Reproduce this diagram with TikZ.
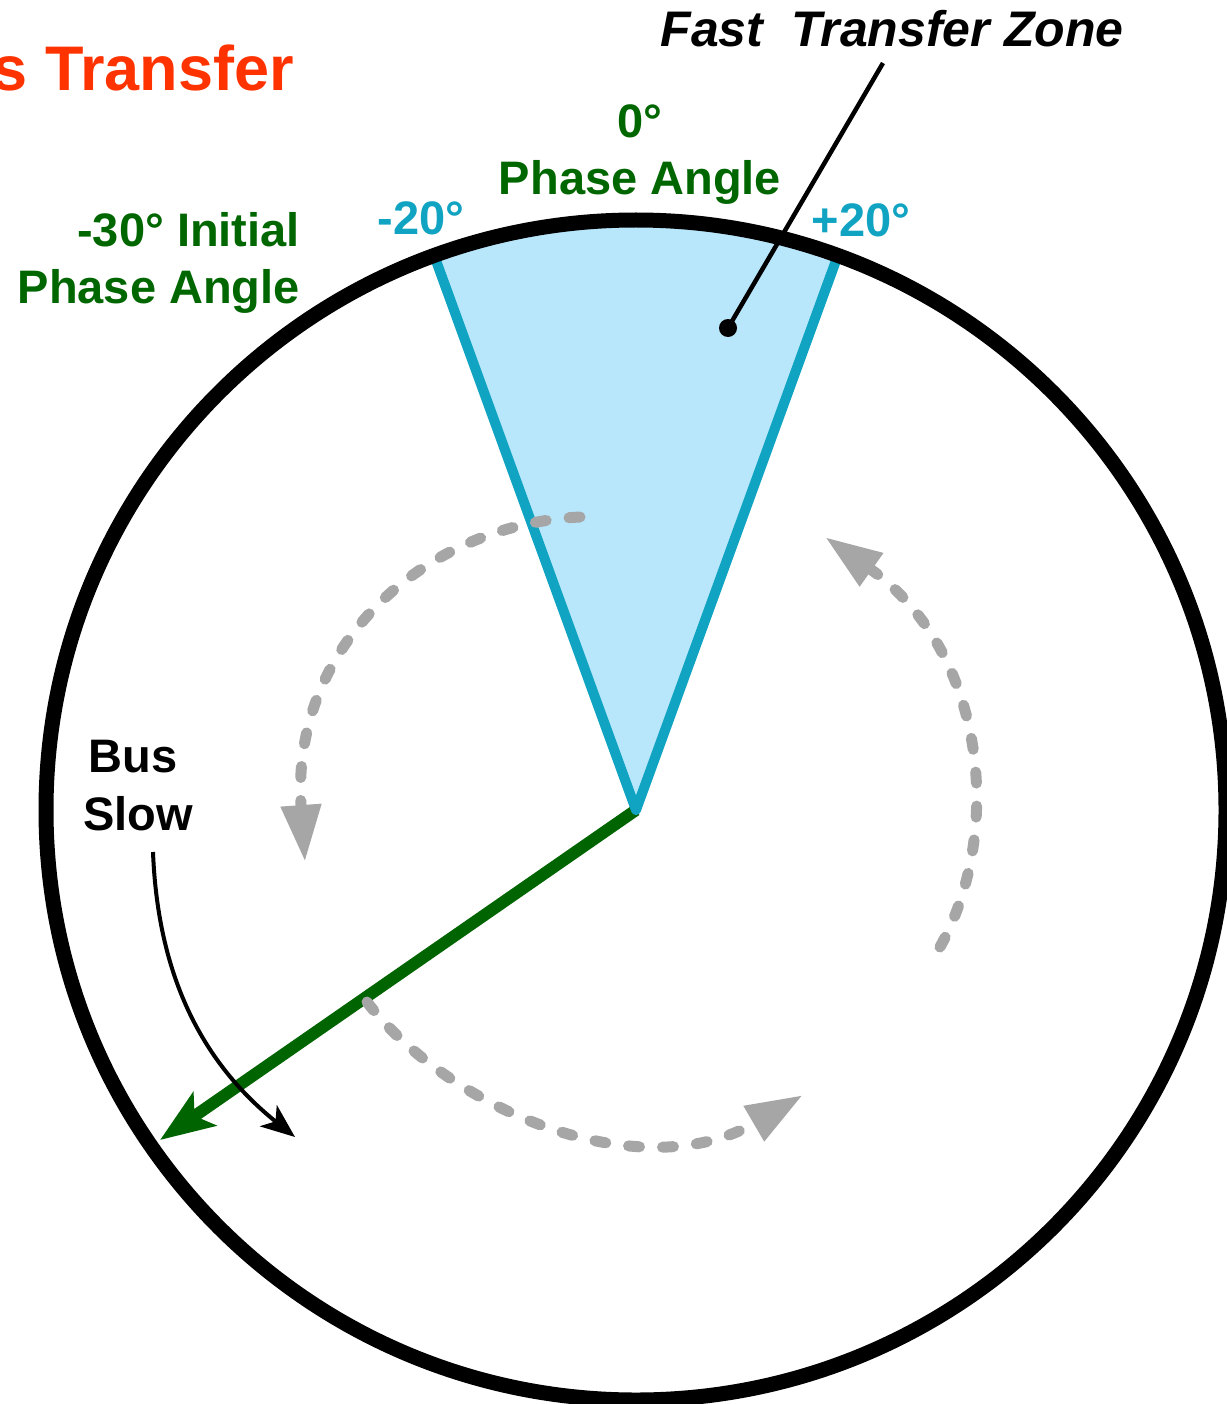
\documentclass[tikz,border=0pt]{standalone}
\usepackage{fontspec}
\setmainfont{Liberation Sans}
\usetikzlibrary{arrows.meta}
\definecolor{ttlred}{HTML}{FF3300}
\definecolor{phgreen}{HTML}{006600}
\definecolor{lngreen}{HTML}{006400}
\definecolor{zcyan}{HTML}{10A4C2}
\definecolor{zfill}{HTML}{B8E7FC}
\definecolor{dgray}{HTML}{A6A6A6}
\tikzset{
  lbl/.style={inner sep=0pt, anchor=base, font={\bfseries\fontsize{47}{56}\selectfont}},
  grayarc/.style={draw=dgray, line width=11pt, line cap=round, dash pattern=on 11pt off 23pt,
    -{Triangle[length=57pt,width=38pt]}},
}
\begin{document}
\begin{tikzpicture}[x=1pt,y=-1pt]
\useasboundingbox (0,0) rectangle (1226,1404);
\fill[white] (0,0) rectangle (1226,1404);
\coordinate (C) at (636,810);
\coordinate (WL) at (434.2,255.6);
\coordinate (WR) at (837.8,255.6);
\coordinate (WLx) at (396.6,152.2);
\coordinate (WRx) at (875.4,152.2);
% wedge fill
\begin{scope}
  \clip (C) circle[radius=590pt];
  \fill[zfill] (C) -- (WLx) -- (WRx) -- cycle;
\end{scope}
% green phasor
\coordinate (G) at (160,1140);
\draw[lngreen, line width=12pt, -{Stealth[length=54pt,width=40pt,inset=12pt]}] (C) -- (G);
% wedge edges
\draw[zcyan, line width=10pt, line join=round] (WL) -- (C) -- (WR);
% leader
\coordinate (dot) at (728,328);
\coordinate (lead) at (883,63);
\draw[black, line width=4.5pt] (dot) -- (lead);
\fill[black] (dot) circle[radius=9pt];
% bus slow arrow
\coordinate (bs1) at (153,852);
\coordinate (bs2) at (295,1137);
\draw[black, line width=4pt, -{Stealth[length=34pt,width=27pt,inset=9pt]}]
  (bs1) .. controls (158,980) and (205,1065) .. (bs2);
% gray dashed arcs
\coordinate (a1s) at (580,517);
\coordinate (a1e) at (305,862);
\draw[grayarc] (a1s) .. controls (420,525) and (290,650) .. (a1e);
\coordinate (a2s) at (367,1002);
\coordinate (a2e) at (803,1095);
\draw[grayarc] (a2s) .. controls (450,1110) and (640,1190) .. (a2e);
\coordinate (a3s) at (940,947);
\coordinate (a3e) at (825,537);
\draw[grayarc] (a3s) .. controls (1005,830) and (985,650) .. (a3e);
% circle
\draw[black, line width=15pt] (C) circle[radius=590pt];
% texts
\node[lbl, text=ttlred, font={\bfseries\fontsize{63}{70}\selectfont}, anchor=base east] (title) at (294,91) {s Transfer};
\node[lbl, text=phgreen, anchor=base east] (init1) at (300,247) {-30° Initial};
\node[lbl, text=phgreen, anchor=base east] (init2) at (300,303) {Phase Angle};
\node[lbl, text=phgreen] (zero) at (640,138) {0°};
\node[lbl, text=phgreen] (zeroph) at (640,195) {Phase Angle};
\node[lbl, text=zcyan] (m20) at (421,235) {-20°};
\node[lbl, text=zcyan] (p20) at (861,237) {+20°};
\node[lbl, font={\bfseries\itshape\fontsize{50}{56}\selectfont}] (ftz) at (892,47) {Fast\ \ Transfer Zone};
\node[lbl] (bus) at (133,772) {Bus};
\node[lbl] (slow) at (138,830) {Slow};
\end{tikzpicture}
\end{document}
